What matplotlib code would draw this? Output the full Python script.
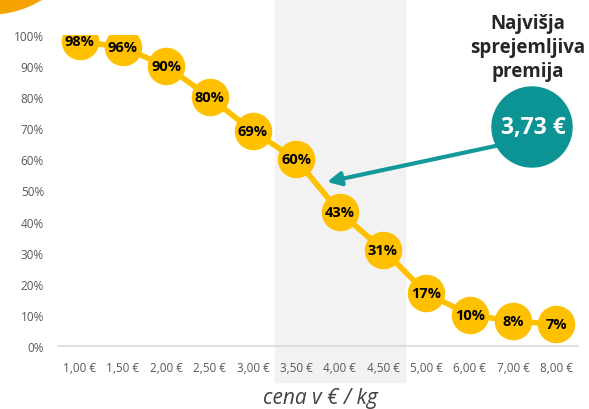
import matplotlib.pyplot as plt
from matplotlib.patches import Circle, Rectangle
from matplotlib.transforms import blended_transform_factory

plt.rcParams['font.family'] = ['Open Sans', 'DejaVu Sans']

# data
prices = ["1,00 €", "1,50 €", "2,00 €", "2,50 €", "3,00 €", "3,50 €",
          "4,00 €", "4,50 €", "5,00 €", "6,00 €", "7,00 €", "8,00 €"]
shares = [98, 96, 90, 80, 69, 60, 43, 31, 17, 10, 8, 7]
y_ticks = [0, 10, 20, 30, 40, 50, 60, 70, 80, 90, 100]
band = (5, 7)  # 3,50 € .. 4,50 €
premium = "3,73 €"

W, H = 589, 410
fig = plt.figure(figsize=(W / 100, H / 100), dpi=100)
ax = fig.add_axes([58 / W, 63 / H, 520 / W, 311 / H])

x = list(range(len(prices)))

# grey band behind the middle prices
tr = blended_transform_factory(ax.transData, fig.transFigure)
ax.add_patch(Rectangle((band[0] - 0.5, 27 / H), band[1] - band[0] + 1, 1 - 27 / H,
                       transform=tr, color="#F2F2F2", zorder=0, clip_on=False))

ax.plot(x, shares, color="#FFC000", lw=4, marker="o", ms=26,
        markeredgecolor="#FFC000", zorder=3)
for xi, v in zip(x, shares):
    ax.text(xi, v, f"{v}%", ha="center", va="center", fontsize=10.5,
            fontweight="bold", color="black", zorder=4)

ax.set_xlim(-0.5, len(prices) - 0.5)
ax.set_ylim(0, 100)
ax.set_xticks(x)
ax.set_xticklabels(prices, fontsize=8.5, color="#595959")
ax.set_yticks(y_ticks)
ax.set_yticklabels([f"{t}%" for t in y_ticks], fontsize=8.5, color="#595959")
ax.tick_params(length=0, pad=11)
ax.tick_params(axis="y", pad=10)
for s in ["top", "right", "left"]:
    ax.spines[s].set_visible(False)
ax.spines["bottom"].set_color("#D9D9D9")
ax.spines["bottom"].set_linewidth(1.2)
ax.patch.set_alpha(0)

fig.text(320 / W, 1 - 399 / H, "cena v € / kg", ha="center", va="center",
         fontsize=15, style="italic", color="#404040")

# title and teal badge
fig.text(528 / W, 1 - 48 / H, "Najvišja\nsprejemljiva\npremija", ha="center",
         va="center", fontsize=13.5, fontweight="bold", color="#262626",
         linespacing=1.3)
fig.patches.append(Circle((532, H - 128), 40, transform=None,
                          color="#0C9494", zorder=5))
fig.text(533 / W, 1 - 128 / H, premium, ha="center", va="center",
         fontsize=16.5, fontweight="bold", color="white", zorder=6)

# arrow from badge to line
ax.annotate("", xy=(327 / W, 1 - 183 / H), xycoords="figure fraction",
            xytext=(500 / W, 1 - 146 / H), textcoords="figure fraction",
            arrowprops=dict(arrowstyle="-|>,head_length=0.8,head_width=0.4",
                            color="#13999A", lw=3, shrinkA=0, shrinkB=0))

# orange arc in the corner
fig.patches.append(Circle((-10, H + 83), 98, transform=None,
                          color="#F5A300", zorder=5))

fig.savefig("out.png", dpi=100)
